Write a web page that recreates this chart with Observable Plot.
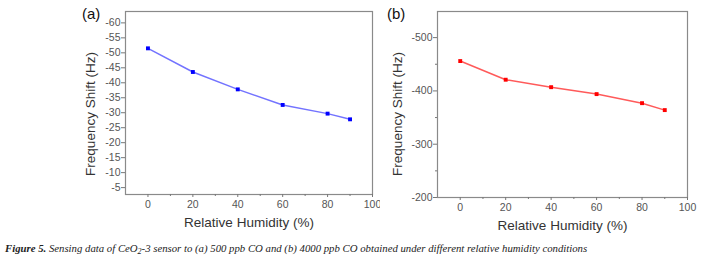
<!DOCTYPE html>
<html><head><meta charset="utf-8">
<script src="https://cdn.jsdelivr.net/npm/d3@7"></script>
<script src="https://cdn.jsdelivr.net/npm/@observablehq/plot@0.6"></script>
<style>
body{margin:0;background:#fff;}
#fig{position:relative;width:707px;height:264px;font-family:"Liberation Sans",Arial,sans-serif;overflow:hidden;background:#fff}
.panel{position:absolute;top:0}
.tag{position:absolute;font-size:15px;color:#111;line-height:15px}
#cap{position:absolute;left:5px;top:242px;font-family:"Liberation Serif","Times New Roman",serif;font-style:italic;font-size:10.75px;color:#222;white-space:nowrap;line-height:13px}
#cap sub{font-size:8px;vertical-align:-2px;line-height:0}
</style></head><body>
<div id="fig">
 <div class="panel" id="pa" style="left:0"></div>
 <div class="panel" id="pb" style="left:380px"></div>
 <div class="tag" style="left:82px;top:6px">(a)</div>
 <div class="tag" style="left:387px;top:6px">(b)</div>
 <div id="cap"><b>Figure 5.</b> Sensing data of CeO<sub>2</sub>-3 sensor to (a) 500 ppb CO and (b) 4000 ppb CO obtained under different relative humidity conditions</div>
</div>
<script>
const humidity = [0, 20, 40, 60, 80, 90];
const shiftA = [-51.5, -43.6, -37.8, -32.6, -29.7, -27.8];
const shiftB = [-456, -421, -407, -394, -377, -364];
const xTicks = [0, 20, 40, 60, 80, 100];
const xMinor = [10, 30, 50, 70, 90];
const yTicksA = [-60, -55, -50, -45, -40, -35, -30, -25, -20, -15, -10, -5];
const yTicksB = [-500, -400, -300, -200];
const yMinorB = [-450, -350, -250];
const xLabel = "Relative Humidity (%)";
const yLabel = "Frequency Shift (Hz)";

function panel({width, marginLeft, marginRight, marginBottom, yDomain, yTicks, yMinor, values, lineColor, dotColor, ylabDx, ylabDy}) {
  const data = humidity.map((h, i) => ({h, v: values[i]}));
  return Plot.plot({
    width, height: 235,
    marginLeft, marginRight, marginTop: 11, marginBottom,
    style: {fontFamily: '"Liberation Sans", Arial, sans-serif', fontSize: "10.5px", color: "#555", background: "white"},
    x: {domain: [-10, 100]},
    y: {domain: yDomain},
    marks: [
      Plot.frame({stroke: "#8a8a8a", strokeWidth: 1.2}),
      Plot.axisX({ticks: xTicks, tickSize: 3, tickPadding: 3, tickFormat: d => String(d), label: null, stroke: "#777", fill: "#555"}),
      Plot.axisX({ticks: xMinor, tickSize: 2, tickFormat: () => "", label: null, stroke: "#777"}),
      Plot.axisY({ticks: yTicks, tickSize: 4, tickPadding: 1, tickFormat: d => String(d), label: null, stroke: "#777", fill: "#555"}),
      ...(yMinor ? [Plot.axisY({ticks: yMinor, tickSize: 2, tickFormat: () => "", label: null, stroke: "#777"})] : []),
      Plot.line(data, {x: "h", y: "v", stroke: lineColor, strokeWidth: 1.5}),
      Plot.dot(data, {x: "h", y: "v", symbol: "square", r: 2.2, fill: dotColor, stroke: "none"}),
      Plot.text([xLabel], {frameAnchor: "bottom", dy: 32, text: d => d, fontSize: 13.5, fill: "#333"}),
      Plot.text([yLabel], {frameAnchor: "left", textAnchor: "middle", dx: ylabDx, dy: ylabDy, rotate: -90, text: d => d, fontSize: 13.5, fill: "#333"})
    ]
  });
}

document.getElementById("pa").append(panel({
  width: 380, marginLeft: 125, marginRight: 8, marginBottom: 41,
  yDomain: [-2.7, -63.8], yTicks: yTicksA, yMinor: null, values: shiftA,
  lineColor: "#7373ff", dotColor: "#0000ff", ylabDx: -35, ylabDy: 11
}));
document.getElementById("pb").append(panel({
  width: 327, marginLeft: 57, marginRight: 20, marginBottom: 38,
  yDomain: [-200, -549], yTicks: yTicksB, yMinor: yMinorB, values: shiftB,
  lineColor: "#ff5a5a", dotColor: "#ff0000", ylabDx: -40, ylabDy: 9.5
}));
</script>
</body></html>
